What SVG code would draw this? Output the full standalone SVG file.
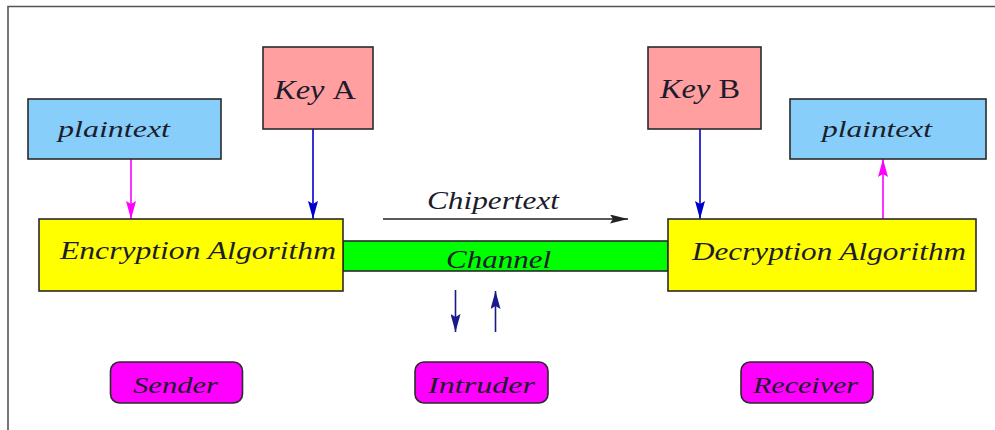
<svg xmlns="http://www.w3.org/2000/svg" width="995" height="430" viewBox="0 0 995 430">
  <style>
    .box { stroke: #2a2a2a; stroke-width: 1.6; }
    .plain { fill: #87cefa; }
    .key { fill: #ff9f9f; }
    .algo { fill: #ffff00; }
    .chan { fill: #00ff00; }
    .actor { fill: #ff00ff; }
    .lbl { font-style: italic; fill: #1c1c2c; }
    .up { font-style: normal; }
    .wire { fill: none; stroke-width: 1.6; }
  </style>
  <defs>
    <!-- arrowheads: 18 long, 10 wide, in user units -->
    <marker id="headMagenta" viewBox="0 0 18 10" refX="18" refY="5" markerWidth="18" markerHeight="10" markerUnits="userSpaceOnUse" orient="auto">
      <path d="M0,0 L18,5 L0,10 L3,5 Z" fill="#ff00ff"/>
    </marker>
    <marker id="headBlue" viewBox="0 0 18 10" refX="18" refY="5" markerWidth="18" markerHeight="10" markerUnits="userSpaceOnUse" orient="auto">
      <path d="M0,0 L18,5 L0,10 L3,5 Z" fill="#0000cc"/>
    </marker>
    <marker id="headNavy" viewBox="0 0 18 10" refX="18" refY="5" markerWidth="18" markerHeight="10" markerUnits="userSpaceOnUse" orient="auto">
      <path d="M0,0 L18,5 L0,10 L3,5 Z" fill="#1a1a8c"/>
    </marker>
    <marker id="headBlack" viewBox="0 0 18 9" refX="18" refY="4.5" markerWidth="18" markerHeight="9" markerUnits="userSpaceOnUse" orient="auto">
      <path d="M0,0 L18,4.5 L0,9 L3,4.5 Z" fill="#222"/>
    </marker>
  </defs>

  <rect width="995" height="430" fill="#ffffff"/>
  <!-- page frame (open at right and bottom) -->
  <path d="M8,430 L8,6.5 L995,6.5" fill="none" stroke="#555" stroke-width="1.6"/>

  <g font-family="'Liberation Serif', 'DejaVu Serif', serif">
  <g id="connectors">
    <line class="wire" x1="131" y1="159" x2="131" y2="219" stroke="#ff00ff" marker-end="url(#headMagenta)"/>
    <line class="wire" x1="313" y1="129" x2="313" y2="219" stroke="#0000cc" marker-end="url(#headBlue)"/>
    <line class="wire" x1="700" y1="129" x2="700" y2="219" stroke="#0000cc" marker-end="url(#headBlue)"/>
    <line class="wire" x1="883" y1="219" x2="883" y2="159" stroke="#ff00ff" marker-end="url(#headMagenta)"/>
    <line class="wire" x1="383" y1="219" x2="628" y2="219" stroke="#222" stroke-width="1.4" marker-end="url(#headBlack)"/>
    <line class="wire" x1="455.5" y1="290" x2="455.5" y2="332" stroke="#1a1a8c" stroke-width="1.8" marker-end="url(#headNavy)"/>
    <line class="wire" x1="495.5" y1="332" x2="495.5" y2="291" stroke="#1a1a8c" stroke-width="1.8" marker-end="url(#headNavy)"/>
    <text class="lbl" x="427" y="209" font-size="25" textLength="132" lengthAdjust="spacingAndGlyphs">Chipertext</text>
  </g>

  <g id="channel">
    <rect class="box chan" x="343" y="241" width="325" height="30"/>
    <text class="lbl" x="446" y="268" font-size="25" textLength="105" lengthAdjust="spacingAndGlyphs">Channel</text>
  </g>

  <g id="plaintext-in">
    <rect class="box plain" x="28" y="99" width="193" height="60"/>
    <text class="lbl" x="58" y="137" font-size="24" textLength="112" lengthAdjust="spacingAndGlyphs">plaintext</text>
  </g>

  <g id="key-a">
    <rect class="box key" x="263" y="47" width="110" height="82"/>
    <text class="lbl" x="274" y="99" font-size="27" textLength="82" lengthAdjust="spacingAndGlyphs">Key <tspan class="up">A</tspan></text>
  </g>

  <g id="encryption">
    <rect class="box algo" x="39" y="219" width="304" height="72"/>
    <text class="lbl" x="60" y="259" font-size="25" textLength="276" lengthAdjust="spacingAndGlyphs">Encryption Algorithm</text>
  </g>

  <g id="key-b">
    <rect class="box key" x="648" y="47" width="113" height="82"/>
    <text class="lbl" x="660" y="98" font-size="27" textLength="80" lengthAdjust="spacingAndGlyphs">Key <tspan class="up">B</tspan></text>
  </g>

  <g id="plaintext-out">
    <rect class="box plain" x="790" y="99" width="196" height="60"/>
    <text class="lbl" x="822" y="137" font-size="24" textLength="110" lengthAdjust="spacingAndGlyphs">plaintext</text>
  </g>

  <g id="decryption">
    <rect class="box algo" x="668" y="219" width="308" height="72"/>
    <text class="lbl" x="692" y="260" font-size="25" textLength="274" lengthAdjust="spacingAndGlyphs">Decryption Algorithm</text>
  </g>

  <g id="sender">
    <rect class="box actor" x="110.5" y="362" width="132" height="41" rx="9"/>
    <text class="lbl" x="133" y="393" font-size="24" textLength="85" lengthAdjust="spacingAndGlyphs">Sender</text>
  </g>

  <g id="intruder">
    <rect class="box actor" x="415" y="362" width="133" height="41" rx="9"/>
    <text class="lbl" x="428" y="393" font-size="24" textLength="107" lengthAdjust="spacingAndGlyphs">Intruder</text>
  </g>

  <g id="receiver">
    <rect class="box actor" x="741" y="362" width="132" height="41" rx="9"/>
    <text class="lbl" x="753" y="393" font-size="24" textLength="105" lengthAdjust="spacingAndGlyphs">Receiver</text>
  </g>
  </g>
</svg>
